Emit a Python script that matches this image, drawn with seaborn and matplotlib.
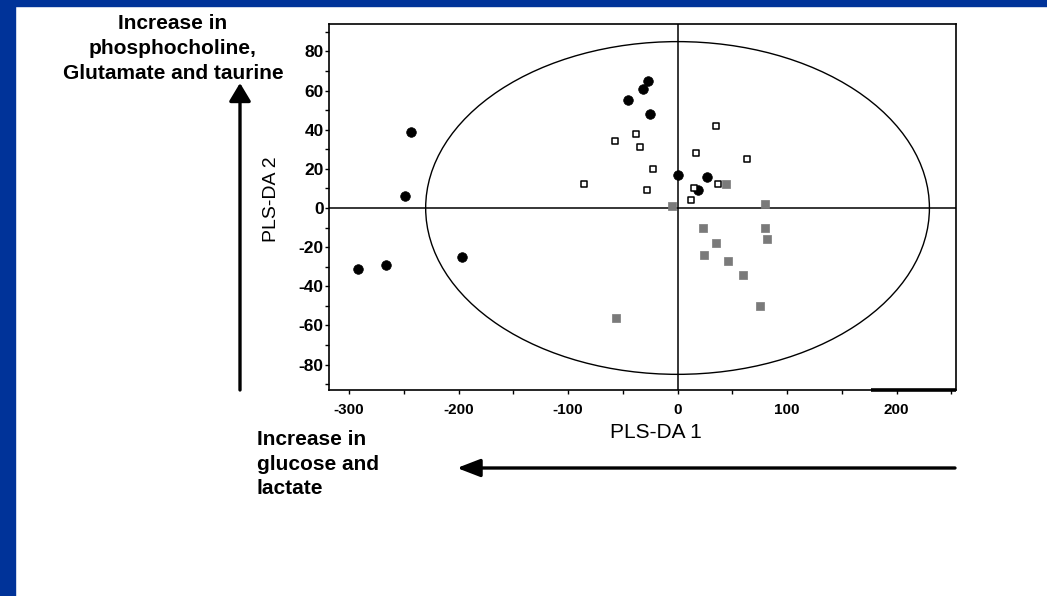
import numpy as np
import pandas as pd
import matplotlib
matplotlib.use("Agg")
import matplotlib.pyplot as plt
from matplotlib.patches import Ellipse, Rectangle
from matplotlib.ticker import MultipleLocator
import seaborn as sns

# ---- data ----
circ_x = [-292, -266, -249, -243, -197, -45, -32, -27, -25, 0, 19, 27]
circ_y = [-31, -29, 6, 39, -25, 55, 61, 65, 48, 17, 9, 16]
open_x = [-85, -57, -38, -34, -28, -22, 12, 15, 17, 35, 37, 63]
open_y = [12, 34, 38, 31, 9, 20, 4, 10, 28, 42, 12, 25]
gray_x = [-56, -5, 23, 24, 35, 44, 46, 60, 75, 80, 80, 82]
gray_y = [-56, 1, -10, -24, -18, 12, -27, -34, -50, 2, -10, -16]
ellipse_radii = (230, 85)
x_ticks = [-300, -200, -100, 0, 100, 200]
y_ticks = [-80, -60, -40, -20, 0, 20, 40, 60, 80]
xlabel = "PLS-DA 1"
ylabel = "PLS-DA 2"
top_note = "Increase in\nphosphocholine,\nGlutamate and taurine"
bottom_note = "Increase in\nglucose and\nlactate"

sns.set_style("ticks")
plt.rcParams['font.family'] = ['Liberation Sans', 'DejaVu Sans']
plt.rcParams['axes.unicode_minus'] = False
plt.rcParams['text.color'] = 'black'
plt.rcParams['axes.labelcolor'] = 'black'
plt.rcParams['xtick.color'] = 'black'
plt.rcParams['ytick.color'] = 'black'

W, H = 1047, 596
fig = plt.figure(figsize=(W / 100, H / 100), dpi=100)
fig.patch.set_facecolor("white")
# blue slide border
fig.add_artist(Rectangle((0, 1 - 6 / H), 1, 6 / H, transform=fig.transFigure,
                         color="#003399", zorder=0))
fig.add_artist(Rectangle((0, 0), 15 / W, 1, transform=fig.transFigure,
                         color="#003399", zorder=0))

ax = fig.add_axes([329.3 / W, 1 - 390 / H, (955.7 - 329.3) / W, (390 - 24) / H])
ax.set_xlim(-318, 254)
ax.set_ylim(-93, 94)

# crosshair and ellipse
ax.axhline(0, color="black", lw=1.1, zorder=1)
ax.axvline(0, color="black", lw=1.1, zorder=1)
ax.add_patch(Ellipse((0, 0), 2 * ellipse_radii[0], 2 * ellipse_radii[1],
                     fill=False, edgecolor="black", lw=1.0, zorder=1))

df1 = pd.DataFrame({"x": circ_x, "y": circ_y})
df2 = pd.DataFrame({"x": open_x, "y": open_y})
df3 = pd.DataFrame({"x": gray_x, "y": gray_y})
sns.scatterplot(data=df1, x="x", y="y", ax=ax, marker="o", s=48,
                color="black", edgecolor="black", linewidth=0.5, zorder=3)
sns.scatterplot(data=df2, x="x", y="y", ax=ax, marker="s", s=22,
                facecolor="white", edgecolor="black", linewidth=1.1, zorder=3)
sns.scatterplot(data=df3, x="x", y="y", ax=ax, marker="s", s=30,
                color="#7a7a7a", edgecolor="#7a7a7a", linewidth=0.5, zorder=3)

# thick segment on bottom axis (as in the reference)
ax.plot([177, 254], [-93, -93], color="black", lw=2.6, clip_on=False,
        solid_capstyle="butt", zorder=4)

for sp in ax.spines.values():
    sp.set_visible(True)
    sp.set_linewidth(1.2)
    sp.set_color("black")

ax.set_xticks(x_ticks)
ax.set_yticks(y_ticks)
ax.xaxis.set_minor_locator(MultipleLocator(50))
ax.yaxis.set_minor_locator(MultipleLocator(10))
ax.tick_params(axis="both", which="both", direction="out", color="black",
               labelcolor="black", width=1.0, length=3)
ax.tick_params(axis="x", which="both", pad=6, labelsize=11)
ax.tick_params(axis="y", which="both", pad=1, labelsize=12.5)
for lab in ax.get_xticklabels() + ax.get_yticklabels():
    lab.set_fontweight("bold")

ax.set_xlabel("")
ax.set_ylabel("")
fig.text(656 / W, 1 - 432 / H, xlabel, ha="center", va="center", fontsize=15,
         color="black")
fig.text(271.5 / W, 1 - 199.5 / H, ylabel, ha="center", va="center",
         rotation=90, fontsize=14, color="black")

# annotations
fig.text(173 / W, 1 - 14 / H, top_note, ha="center", va="top", color="black",
         fontsize=15, fontweight="bold", linespacing=1.4)
fig.text(257 / W, 1 - 430 / H, bottom_note, ha="left", va="top", color="black",
         fontsize=15, fontweight="bold", linespacing=1.38)

ax.annotate("", xy=(240, H - 83), xycoords="figure pixels",
            xytext=(240, H - 390), textcoords="figure pixels",
            arrowprops=dict(arrowstyle="-|>,head_length=0.55,head_width=0.33",
                            lw=2.4, color="black", mutation_scale=20,
                            shrinkA=0, shrinkB=0))
ax.annotate("", xy=(457, H - 468), xycoords="figure pixels",
            xytext=(955, H - 468), textcoords="figure pixels",
            arrowprops=dict(arrowstyle="-|>,head_length=0.7,head_width=0.27",
                            lw=2.4, color="black", mutation_scale=20,
                            shrinkA=0, shrinkB=0))

fig.savefig("out.png", dpi=100, facecolor="white")
